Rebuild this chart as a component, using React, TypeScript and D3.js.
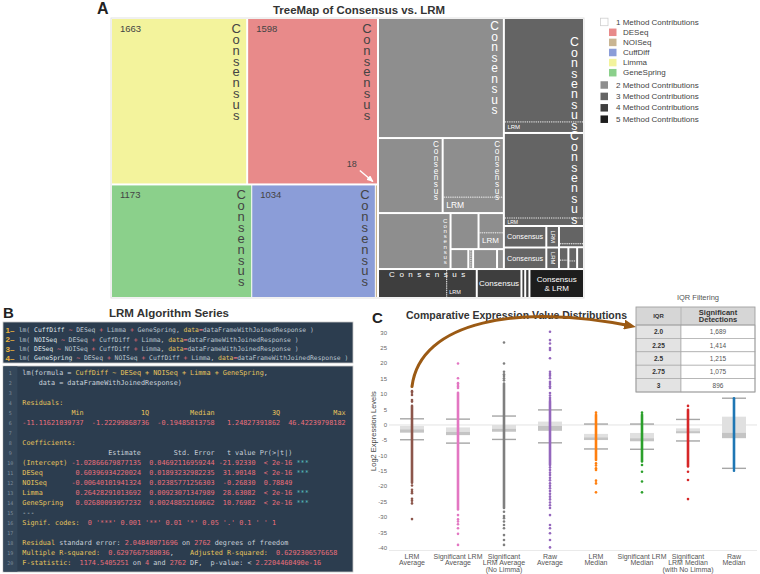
import React from 'react';
import * as d3 from 'd3';

const SANS = "'Liberation Sans', Arial, Helvetica, sans-serif";
const MONO = "'DejaVu Sans Mono', monospace";

// ================= Panel A : treemap =================
const methodNames = ['Limma', 'DESeq', 'GeneSpring', 'CuffDiff', 'NOISeq'];
const methodCounts = [1663, 1598, 1173, 1034, 18];
const methodColors: Record<string, string> = {
  DESeq: '#e88a8a', NOISeq: '#c9b592', CuffDiff: '#8b9dd8', Limma: '#f3f39c', GeneSpring: '#8bd08b',
};
const legendMethods = ['DESeq', 'NOISeq', 'CuffDiff', 'Limma', 'GeneSpring'];
const levelLabels = ['1 Method Contributions', '2 Method Contributions', '3 Method Contributions', '4 Method Contributions', '5 Method Contributions'];
const levelColors = ['#ffffff', '#8e8e8e', '#646464', '#3e3e3e', '#1d1d1d'];

const leaf = (value: number, label?: string, fs?: number, opt: any = {}) => ({ value, label, fs, ...opt });

// multi-method cells (counts)
const twoMethodCells = {
  level: 2, dir: 'y', children: [
    leaf(1109, 'vc', 12, { top: 7 }),
    { dir: 'x', children: [
      leaf(356, 'vc', 8.2, { top: 6 }),
      { dir: 'y', pair: true, children: [leaf(268, 'vc', 8.2, { top: 6 }), leaf(69, 'lrm', 8.5)] },
    ] },
    { dir: 'x', children: [
      leaf(298, 'vc', 6.1, { top: 6 }),
      { dir: 'y', children: [
        { dir: 'x', children: [leaf(74), { dir: 'y', pair: true, children: [leaf(37), leaf(30, 'lrm', 8)] }] },
        { dir: 'x', children: [leaf(26), { dir: 'x', pair: true, children: [leaf(4), leaf(3)] }, leaf(35), leaf(10)] },
      ] },
    ] },
  ],
};
const threeMethodCells = {
  level: 3, dir: 'y', children: [
    { dir: 'y', pair: true, children: [leaf(616, 'vc', 12.3, { bottom: 5 }), leaf(60, 'lrm', 6)] },
    { dir: 'y', pair: true, children: [leaf(505, 'vc', 12.3, { bottom: 4 }), leaf(42, 'lrm', 5)] },
    { dir: 'x', children: [
      { dir: 'y', children: [
        { dir: 'x', children: [leaf(67, 'hc', 7.2), leaf(20, 'vlrm', 6)] },
        { dir: 'x', children: [leaf(67, 'hc', 7.2), leaf(20, 'vlrm', 6)] },
      ] },
      { dir: 'y', children: [
        { dir: 'y', pair: true, children: [leaf(34), leaf(5)] },
        { dir: 'x', children: [
          { dir: 'y', pair: true, children: [leaf(9), leaf(6)] },
          { dir: 'y', pair: true, children: [leaf(9), leaf(5)] },
          leaf(11),
        ] },
      ] },
    ] },
  ],
};
const fourMethodCells = {
  level: 4, dir: 'x', children: [
    { dir: 'x', pair: true, children: [leaf(147, 'sc', 8), leaf(63, 'lrm', 5.5, { vy: 'bottom' })] },
    leaf(95, 'hc', 8),
    leaf(8),
    leaf(9),
  ],
};
const fiveMethodCells = { level: 5, ...leaf(116, 'cl', 8) };

const treeData = {
  dir: 'x', children: [
    { level: 1, dir: 'y', children: [
      { dir: 'x', children: [0, 1].map(i => leaf(methodCounts[i], 'num', 13, { name: methodNames[i] })) },
      { dir: 'x', pad: 1, children: [2, 3, 4].map(i => leaf(methodCounts[i], i === 4 ? 'arrow' : 'num', 13, { name: methodNames[i] })) },
    ] },
    { dir: 'y', children: [
      { dir: 'x', children: [twoMethodCells, threeMethodCells] },
      { dir: 'x', children: [fourMethodCells, fiveMethodCells] },
    ] },
  ],
};

// ================= Panel B : code =================
const seriesFormulas = [
  'lm( CuffDiff ~ DESeq + Limma + GeneSpring, data=dataFrameWithJoinedResponse )',
  'lm( NOISeq ~ DESeq + CuffDiff + Limma, data=dataFrameWithJoinedResponse )',
  'lm( DESeq ~ NOISeq + CuffDiff + Limma, data=dataFrameWithJoinedResponse )',
  'lm( GeneSpring ~ DESeq + NOISeq + CuffDiff + Limma, data=dataFrameWithJoinedResponse )',
];
const K = '#e6c35c', R = '#ea6f7b', W = '#c9d1da', CY = '#5cc8c8';
const sp = (n: number) => ' '.repeat(n);
const codeLines: [string, string][][] = [
  [['lm(formula = ', W], ['CuffDiff ~ DESeq + NOISeq + Limma + GeneSpring', K], [',', W]],
  [['    data = dataFrameWithJoinedResponse)', W]],
  [],
  [['Residuals:', K]],
  [[sp(12) + 'Min' + sp(14) + '1Q' + sp(10) + 'Median' + sp(14) + '3Q' + sp(13) + 'Max', K]],
  [['-11.11621039737  -1.22299868736  -0.19485813758   1.24827391862  46.42239798182', R]],
  [],
  [['Coefficients:', K]],
  [[sp(21) + 'Estimate' + sp(8) + 'Std. Error' + sp(3) + 't value Pr(>|t|)', W]],
  [['(Intercept)', K], [' -1.02866679877135  0.04692116959244 -21.92330  < 2e-16 ', R], ['***', CY]],
  [['DESeq', K], ['        0.60396934220024  0.01893232982235  31.90148  < 2e-16 ', R], ['***', CY]],
  [['NOISeq', K], ['      -0.00640101941324  0.02385771256303  -0.26830  0.78849', R]],
  [['Limma', K], ['        0.26428291013692  0.00923071347989  28.63082  < 2e-16 ', R], ['***', CY]],
  [['GeneSpring', K], ['   0.02680093957232  0.00248852169662  10.76982  < 2e-16 ', R], ['***', CY]],
  [['---', W]],
  [['Signif. codes:  ', K], ["0 '***' 0.001 '**' 0.01 '*' 0.05 '.' 0.1 ' ' 1", R]],
  [],
  [['Residual', K], [' standard error: ', W], ['2.04840071696', R], [' on ', W], ['2762', R], [' degrees of freedom', W]],
  [['Multiple R-squared:  ', K], ['0.6297667580036', R], [',    ', W], ['Adjusted R-squared:  ', K], ['0.6292306576658', R]],
  [['F-statistic:  ', K], ['1174.5405251', R], [' on ', W], ['4', R], [' and ', W], ['2762', R], [' DF,  p-value: < ', W], ['2.2204460490e-16', R]],
];

// ================= Panel C : box plots =================
const boxCategories = ['LRM Average', 'Significant LRM Average', 'Significant LRM Average (No Limma)', 'Raw Average', 'LRM Median', 'Significant LRM Median', 'Significant LRM Median (with No Limma)', 'Raw Median'];
const boxLabelLines = [['LRM', 'Average'], ['Significant LRM', 'Average'], ['Significant', 'LRM Average', '(No Limma)'], ['Raw', 'Average'], ['LRM', 'Median'], ['Significant LRM', 'Median'], ['Significant', 'LRM Median', '(with No Limma)'], ['Raw', 'Median']];
const boxColors = ['#8c564b', '#e377c2', '#7f7f7f', '#9467bd', '#ff7f0e', '#2ca02c', '#d62728', '#1f77b4'];
const whiskerHigh = [2.0, 1.9, 2.9, 4.9, 0.3, 0.3, 1.8, 8.7];
const whiskerLow = [-4.8, -5.9, -4.7, -5.8, -7.8, -7.9, -5.2, -14.1];
const upperQuartile = [-0.3, -0.8, 0.0, 1.1, -2.9, -2.6, -1.1, 2.7];
const medians = [-1.4, -2.2, -1.2, -0.3, -4.0, -4.3, -2.0, -2.5];
const lowerQuartile = [-2.5, -3.3, -2.2, -1.9, -4.9, -5.3, -2.7, -4.3];
const denseHigh = [6.2, 10.5, 13.5, 7.6, 3.3, 3.3, 4.9, 8.7];
const denseLow = [-18.8, -27.5, -27.0, -13.0, -11.4, -11.9, -13.5, -13.8];
const outlierValues = [
  [11, 10.5, 9.75, 8.1, 7.6, -19.7, -21.1, -21.7, -22.2, -24, -24.6, -25.5, -30.6],
  [20, 15.2, 13.6, 13, 12.5, 12, -29.3, -30.7, -31.4, -32.3, -33.6, -35.4, -39],
  [26.8, 20, 17.3, 16.5, 15.9, 15.2, 14.5, -28.2, -29.6, -30.3, -31.4, -32.5, -33.6, -35.8, -37.4, -39],
  [30.3, 27.6, 26.5, 25, 24.4, 21.7, 17.3, 16.6, 16, 15.2, 14, 13.3, 12.6, 12, 10.4, 9.6, 8.8, 8.1, -13.8, -14.6, -15.5, -16.3, -17.2, -18, -19, -19.8, -20.6, -21.5, -22.4, -23.3, -24.2, -25.2, -26.1, -27, -29.3, -32.5, -33.6, -35.2, -37.4, -39.8],
  [4.0, -12.5, -13.2, -14.1, -14.6, -18.1, -19, -21.9],
  [4.0, -13, -15.2, -18.4, -21.9],
  [6.2, -15.2, -17.9, -24.1],
  [-14.3, -14.9],
];
const yTicks = [30, 25, 20, 15, 10, 5, 0, -5, -10, -15, -20, -25, -30, -35, -40];
const iqrLevels = ['2.0', '2.25', '2.5', '2.75', '3'];
const iqrDetections = [1689, 1414, 1215, 1075, 896];

const tile = (node: any, x0: number, y0: number, x1: number, y1: number) => {
  if (node.data.dir === 'x') d3.treemapDice(node, x0, y0, x1, y1);
  else d3.treemapSlice(node, x0, y0, x1, y1);
};

// one text run written top-to-bottom with upright letters
const V_ADV = 1.15; // vertical advance of an upright glyph, in em
function vertWord(word: string, cx: number, firstCenter: number, step: number, fs: number, fill: string, key: string) {
  return (
    <text key={key} x={cx} y={firstCenter - (V_ADV * fs) / 2} fontSize={fs} fill={fill} fontFamily={SANS}
      letterSpacing={step - V_ADV * fs}
      style={{ writingMode: 'vertical-rl', textOrientation: 'upright' } as any}>{word}</text>
  );
}

function levelOf(n: any): number {
  let a = n;
  while (a && a.data.level == null) a = a.parent;
  return a ? a.data.level : 2;
}

export default function App() {
  // ----- treemap layout -----
  const tmX = 112, tmY = 19, tmW = 471, tmH = 278;
  const root = d3.hierarchy<any>(treeData).sum((d: any) => d.value || 0);
  (d3.treemap<any>() as any)
    .size([tmW, tmH])
    .tile(tile)
    .paddingInner((n: any) => (n.data.pair ? 0 : (n.data.pad ?? 2)))(root);
  const leaves: any[] = root.leaves();
  const pairs: any[] = root.descendants().filter((n: any) => n.data.pair);

  const labelEls: any[] = [];
  leaves.forEach((n, i) => {
    const d = n.data;
    const w = n.x1 - n.x0, h = n.y1 - n.y0;
    const key = 'l' + i;
    switch (d.label) {
      case 'num':
        labelEls.push(<text key={key + 'n'} x={n.x0 + 8} y={n.y0 + 13} fontSize={9.5} fill="#444" fontFamily={SANS}>{d.value}</text>);
        labelEls.push(vertWord('Consensus', n.x1 - 10, n.y0 + 9.5, 10.8, 13, '#444', key));
        break;
      case 'vc': {
        const step = d.fs * 0.86;
        const ys = d.bottom != null ? n.parent.y1 - d.bottom - 8 * step : n.y0 + d.top;
        labelEls.push(vertWord('Consensus', n.x1 - d.fs * 0.7, ys, step, d.fs, '#fff', key));
        break;
      }
      case 'lrm':
        labelEls.push(<text key={key} x={n.x0 + 2.5} y={d.vy === 'bottom' ? n.y1 - 5 : (n.y0 + n.y1) / 2} fontSize={d.fs} fill="#fff" dominantBaseline="central" fontFamily={SANS}>LRM</text>);
        break;
      case 'hc':
        labelEls.push(<text key={key} x={n.x0 + w / 2} y={n.y0 + h / 2} fontSize={d.fs} fill="#fff" textAnchor="middle" dominantBaseline="central" fontFamily={SANS}>Consensus</text>);
        break;
      case 'vlrm':
        labelEls.push(<text key={key} transform={`translate(${n.x0 + w / 2},${n.y0 + h / 2}) rotate(90)`} fontSize={d.fs} fill="#fff" textAnchor="middle" dominantBaseline="central" fontFamily={SANS}>LRM</text>);
        break;
      case 'sc':
        labelEls.push(<text key={key} x={(n.parent.x0 + n.parent.x1) / 2 + 2} y={n.y0 + 4.5} fontSize={d.fs} fill="#fff" textAnchor="middle" dominantBaseline="central" letterSpacing={4.5} fontFamily={SANS}>Consensus</text>);
        break;
      case 'cl':
        labelEls.push(
          <text key={key} fontSize={d.fs} fill="#fff" textAnchor="middle" fontFamily={SANS}>
            <tspan x={n.x0 + w / 2} y={n.y0 + h / 2 - 1.6}>Consensus</tspan>
            <tspan x={n.x0 + w / 2} y={n.y0 + h / 2 + 7.9}>&amp; LRM</tspan>
          </text>
        );
        break;
      case 'arrow':
        labelEls.push(<text key={key + 't'} x={n.x0 - 29} y={n.y0 - 18} fontSize={9} fill="#444" fontFamily={SANS}>{d.value}</text>);
        labelEls.push(<line key={key + 'a'} x1={n.x0 - 16} y1={n.y0 - 15} x2={n.x0 - 3} y2={n.y0 - 4} stroke="#fff" strokeWidth={1.4} markerEnd="url(#whiteHead)" />);
        break;
      default:
        break;
    }
  });

  // ----- panel C scales -----
  const xScale = d3.scaleBand<string>().domain(boxCategories).range([389, 757]);
  const yScale = d3.scaleLinear().domain([-40, 30]).range([548, 332.7]);
  const bw = xScale.bandwidth();
  const boxW = 24;
  const cx = (i: number) => (xScale(boxCategories[i]) as number) + bw / 2;

  const tableX0 = 636, tableX1 = 755, tableSplit = 681, tableTop = 307, headerBottom = 325;
  const rowScale = d3.scaleBand<string>().domain(iqrLevels).range([headerBottom, 392]);
  const fmt = d3.format(',');

  // arrow from LRM Average top outlier to the IQR table
  const ax0 = cx(0), ay0 = yScale(12.5);
  const ax1 = tableX0 - 6, ay1 = (rowScale('2.0') as number) + rowScale.bandwidth() / 2 - 6;
  const arrowPath = `M${ax0},${ay0} C${ax0 + 8},${ay0 - 66} ${ax1 - 110},${ay1 - 22} ${ax1},${ay1}`;

  return (
    <svg width={760} height={574} style={{ position: 'absolute', left: 0, top: 0, background: '#fff' }} fontFamily={SANS}>
      <defs>
        <marker id="whiteHead" markerUnits="userSpaceOnUse" markerWidth={7} markerHeight={6} refX={6} refY={3} orient="auto">
          <path d="M0,0 L7,3 L0,6 z" fill="#fff" />
        </marker>
        <marker id="brownHead" markerUnits="userSpaceOnUse" markerWidth={12} markerHeight={10} refX={6} refY={5} orient="auto">
          <path d="M0,0 L12,5 L0,10 z" fill="#9b5a14" />
        </marker>
      </defs>

      {/* ============ Panel A ============ */}
      <text x={97} y={14} fontSize={16} fontWeight="bold" fill="#222">A</text>
      <text x={273} y={14} fontSize={11.4} fontWeight="bold" fill="#333" textLength={172} lengthAdjust="spacingAndGlyphs">TreeMap of Consensus vs. LRM</text>
      <rect x={tmX - 1} y={tmY - 1} width={tmW + 2} height={tmH + 2} fill="#fff" stroke="#e2e2e2" strokeWidth={1} />
      <g transform={`translate(${tmX},${tmY})`}>
        {leaves.map((n, i) => {
          const lvl = levelOf(n);
          const fill = lvl === 1 ? methodColors[n.data.name] : levelColors[lvl - 1];
          return <rect key={i} x={n.x0} y={n.y0} width={Math.max(0, n.x1 - n.x0)} height={Math.max(0, n.y1 - n.y0)} fill={fill} />;
        })}
        {pairs.map((p, i) => p.children.slice(1).map((c: any, j: number) => (
          p.data.dir === 'y'
            ? <line key={`p${i}-${j}`} x1={c.x0} x2={c.x1} y1={c.y0} y2={c.y0} stroke="#f2f2f2" strokeWidth={1} strokeDasharray="1.2 1" />
            : <line key={`p${i}-${j}`} x1={c.x0} x2={c.x0} y1={c.y0} y2={c.y1} stroke="#f2f2f2" strokeWidth={1} strokeDasharray="1.2 1" />
        )))}
        {labelEls}
      </g>

      {/* legend */}
      <g fontSize={8} fill="#444">
        <rect x={600.5} y={18.2} width={7.5} height={7.5} fill="#fff" stroke="#cfcfcf" strokeWidth={0.8} />
        <text x={616} y={22} dominantBaseline="central">{levelLabels[0]}</text>
        {legendMethods.map((m, i) => (
          <g key={m}>
            <rect x={609} y={32.3 + i * 10.1 - 3.75} width={7.5} height={7.5} fill={methodColors[m]} />
            <text x={623} y={32.3 + i * 10.1} dominantBaseline="central">{m}</text>
          </g>
        ))}
        {levelLabels.slice(1).map((l, i) => (
          <g key={l}>
            <rect x={600.5} y={85 + i * 11.4 - 3.75} width={7.5} height={7.5} fill={levelColors[i + 1]} />
            <text x={616} y={85 + i * 11.4} dominantBaseline="central">{l}</text>
          </g>
        ))}
      </g>

      {/* ============ Panel B ============ */}
      <text x={3} y={318} fontSize={15} fontWeight="bold" fill="#222">B</text>
      <text x={109} y={317} fontSize={11.3} fontWeight="bold" fill="#333" textLength={120} lengthAdjust="spacingAndGlyphs">LRM Algorithm Series</text>
      <rect x={3} y={322} width={350} height={41} fill="#2c3d4f" stroke="#c8c8c8" strokeWidth={0.8} />
      {seriesFormulas.map((f, i) => {
        const toks = f.split(/(\s+|[~+=()])/).filter(t => t.length > 0);
        return (
          <g key={'f' + i}>
            <text x={5.5} y={333 + i * 9.3} fontSize={8} fontWeight="bold" fill="#f0b43c">{`${i + 1}–`}</text>
            <text x={18.7} y={332.4 + i * 9.3} fontSize={6.36} fontFamily={MONO} style={{ whiteSpace: 'pre' }} xmlSpace="preserve">
              {toks.map((t, k) => (
                <tspan key={k} fill={t === '~' || t === '+' || t === '=' ? '#e8707a' : t === 'data' ? K : (k === 3 ? '#dfe3e8' : '#b9c3cd')}>{t}</tspan>
              ))}
            </text>
          </g>
        );
      })}
      <rect x={3} y={366} width={350} height={206} fill="#2c3d4f" stroke="#c8c8c8" strokeWidth={0.8} />
      <rect x={3.4} y={366.4} width={14} height={205.2} fill="#34475a" />
      {codeLines.map((segs, i) => (
        <g key={'c' + i}>
          <text x={10.2} y={372.7 + i * 10 + 1.8} fontSize={5} fill="#7f8e9c" textAnchor="middle" fontFamily={MONO}>{i + 1}</text>
          <text x={22.3} y={372.7 + i * 10 + 2.4} fontSize={6.8} fontFamily={MONO} style={{ whiteSpace: 'pre' }} xmlSpace="preserve">
            {segs.map(([t, c], k) => <tspan key={k} fill={c}>{t}</tspan>)}
          </text>
        </g>
      ))}

      {/* ============ Panel C ============ */}
      <text x={372} y={323} fontSize={15} fontWeight="bold" fill="#222">C</text>
      <text x={406} y={319} fontSize={10.5} fontWeight="bold" fill="#333" textLength={221} lengthAdjust="spacingAndGlyphs">Comparative Expression Value Distributions</text>

      {/* axes */}
      {yTicks.map(t => (
        <text key={'yt' + t} x={387} y={yScale(t)} fontSize={6} fill="#666" textAnchor="end" dominantBaseline="central">{t}</text>
      ))}
      <line x1={389} x2={757} y1={yScale(0)} y2={yScale(0)} stroke="#dcdcdc" strokeWidth={0.8} />
      <line x1={389} x2={757} y1={550.5} y2={550.5} stroke="#e4e4e4" strokeWidth={0.8} />
      <text transform={`translate(373,${yScale(-2)}) rotate(-90)`} fontSize={7.5} fill="#444" textAnchor="middle" dominantBaseline="central">Log2 Expression Levels</text>

      {/* boxes */}
      {boxCategories.map((c, i) => (
        <g key={'b' + c}>
          <rect x={cx(i) - boxW / 2} y={yScale(upperQuartile[i])} width={boxW} height={yScale(medians[i]) - yScale(upperQuartile[i])} fill="#e0e0e0" />
          <rect x={cx(i) - boxW / 2} y={yScale(medians[i])} width={boxW} height={yScale(lowerQuartile[i]) - yScale(medians[i])} fill="#c4c4c4" />
          <line x1={cx(i) - 12} x2={cx(i) + 12} y1={yScale(whiskerHigh[i])} y2={yScale(whiskerHigh[i])} stroke="#a6a6a6" strokeWidth={1.4} />
          <line x1={cx(i) - 12} x2={cx(i) + 12} y1={yScale(whiskerLow[i])} y2={yScale(whiskerLow[i])} stroke="#a6a6a6" strokeWidth={1.4} />
        </g>
      ))}
      {/* points */}
      {boxCategories.map((c, i) => (
        <g key={'p' + c} fill={boxColors[i]}>
          <line x1={cx(i)} x2={cx(i)} y1={yScale(denseHigh[i])} y2={yScale(denseLow[i])} stroke={boxColors[i]} strokeWidth={2.6} strokeLinecap="round" />
          {outlierValues[i].map((v, k) => <circle key={k} cx={cx(i)} cy={yScale(v)} r={1.3} />)}
        </g>
      ))}
      {/* x labels */}
      {boxLabelLines.map((lines, i) => (
        <text key={'xl' + i} x={cx(i)} y={558.5} fontSize={7} fill="#555" textAnchor="middle">
          {lines.map((l, k) => <tspan key={k} x={cx(i)} dy={k === 0 ? 0 : 6.5}>{l}</tspan>)}
        </text>
      ))}

      {/* IQR table */}
      <text x={698} y={300} fontSize={7.5} fill="#555" textAnchor="middle">IQR Filtering</text>
      <rect x={tableX0} y={tableTop} width={tableX1 - tableX0} height={headerBottom - tableTop} fill="#d6d6d6" />
      {iqrLevels.map((l, i) => (
        <g key={'r' + l}>
          <rect x={tableX0} y={rowScale(l)} width={tableSplit - tableX0} height={rowScale.bandwidth()} fill="#e3e3e3" stroke="#a8a8a8" strokeWidth={0.7} />
          <rect x={tableSplit} y={rowScale(l)} width={tableX1 - tableSplit} height={rowScale.bandwidth()} fill="#fff" stroke="#a8a8a8" strokeWidth={0.7} />
          <text x={(tableX0 + tableSplit) / 2} y={(rowScale(l) as number) + rowScale.bandwidth() / 2} fontSize={6.5} fontWeight="bold" fill="#333" textAnchor="middle" dominantBaseline="central">{l}</text>
          <text x={(tableSplit + tableX1) / 2} y={(rowScale(l) as number) + rowScale.bandwidth() / 2} fontSize={6.5} fill="#555" textAnchor="middle" dominantBaseline="central">{fmt(iqrDetections[i])}</text>
        </g>
      ))}
      <rect x={tableX0} y={tableTop} width={tableX1 - tableX0} height={392 - tableTop} fill="none" stroke="#a0a0a0" strokeWidth={0.9} />
      <line x1={tableSplit} x2={tableSplit} y1={tableTop} y2={headerBottom} stroke="#a8a8a8" strokeWidth={0.7} />
      <line x1={tableX0} x2={tableX1} y1={headerBottom} y2={headerBottom} stroke="#a0a0a0" strokeWidth={0.9} />
      <text x={(tableX0 + tableSplit) / 2} y={318} fontSize={6} fontWeight="bold" fill="#333" textAnchor="middle">IQR</text>
      <text fontSize={7.5} fontWeight="bold" fill="#333" textAnchor="middle">
        <tspan x={(tableSplit + tableX1) / 2} y={314.5}>Significant</tspan>
        <tspan x={(tableSplit + tableX1) / 2} y={322.3}>Detections</tspan>
      </text>

      {/* annotation arrow */}
      <path d={arrowPath} fill="none" stroke="#9b5a14" strokeWidth={3} strokeLinecap="round" markerEnd="url(#brownHead)" />
    </svg>
  );
}
